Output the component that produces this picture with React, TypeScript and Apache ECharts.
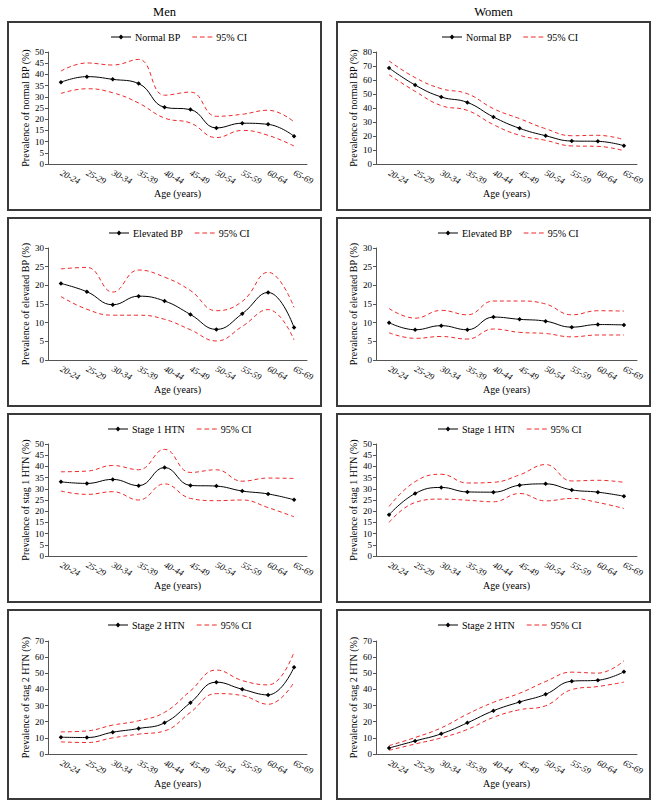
import React, { useEffect, useRef } from "react";
import * as echarts from "echarts";

const ageGroups = ["20-24", "25-29", "30-34", "35-39", "40-44", "45-49", "50-54", "55-59", "60-64", "65-69"];

// Men - Normal BP
const menNormal = [36.5, 39.0, 37.8, 35.9, 25.3, 24.3, 16.1, 18.2, 17.7, 12.4];
const menNormalUp = [41.5, 45.1, 44.2, 46.7, 30.7, 32.1, 21.3, 22.2, 24.0, 18.8];
const menNormalLo = [31.5, 33.6, 31.8, 27.2, 20.5, 18.3, 11.8, 15.0, 12.8, 8.0];
// Women - Normal BP
const womenNormal = [68.6, 56.4, 47.9, 44.0, 33.6, 25.5, 20.2, 16.4, 16.2, 13.1];
const womenNormalUp = [73.6, 61.7, 53.8, 50.2, 39.5, 32.4, 25.2, 20.2, 20.5, 17.4];
const womenNormalLo = [63.8, 51.9, 41.7, 38.3, 28.1, 20.5, 16.9, 12.9, 12.6, 9.5];
// Men - Elevated BP
const menElevated = [20.5, 18.3, 14.8, 17.1, 15.8, 12.2, 8.2, 12.4, 18.1, 8.7];
const menElevatedUp = [24.4, 24.8, 18.2, 24.1, 22.2, 18.6, 13.2, 15.7, 23.5, 14.1];
const menElevatedLo = [17.0, 13.6, 12.0, 12.0, 10.9, 8.1, 5.1, 9.0, 13.5, 5.4];
// Women - Elevated BP
const womenElevated = [10.0, 8.1, 9.2, 8.1, 11.5, 10.9, 10.4, 8.8, 9.5, 9.4];
const womenElevatedUp = [13.8, 11.2, 13.3, 12.1, 15.8, 15.8, 15.0, 12.1, 13.2, 13.1];
const womenElevatedLo = [7.3, 5.8, 6.3, 5.6, 8.3, 7.4, 7.1, 6.2, 6.7, 6.7];
// Men - Stage 1 HTN
const menStage1 = [33.1, 32.4, 34.2, 31.4, 39.5, 31.5, 31.2, 29.0, 27.7, 25.1];
const menStage1Up = [37.6, 37.9, 40.4, 38.5, 47.6, 37.3, 38.5, 33.4, 34.8, 34.6];
const menStage1Lo = [29.0, 27.5, 28.7, 25.0, 32.2, 25.7, 24.7, 25.0, 21.6, 17.5];
// Women - Stage 1 HTN
const womenStage1 = [18.4, 27.9, 30.6, 28.6, 28.5, 31.6, 32.2, 29.5, 28.5, 26.7];
const womenStage1Up = [22.1, 33.2, 36.5, 32.6, 32.9, 36.2, 40.8, 33.5, 33.8, 32.9];
const womenStage1Lo = [15.0, 23.9, 25.4, 24.9, 24.2, 27.9, 24.6, 25.7, 23.9, 21.2];
// Men - Stage 2 HTN
const menStage2 = [10.4, 10.2, 13.5, 15.8, 19.3, 31.8, 44.5, 40.1, 36.6, 53.8];
const menStage2Up = [13.7, 14.3, 17.9, 20.6, 25.8, 39.1, 52.0, 45.5, 42.8, 63.2];
const menStage2Lo = [7.5, 7.1, 10.0, 12.3, 14.3, 25.8, 37.4, 36.2, 30.8, 44.5];
// Women - Stage 2 HTN
const womenStage2 = [3.7, 8.1, 12.5, 19.3, 26.8, 32.2, 37.0, 45.1, 45.7, 50.9];
const womenStage2Up = [5.2, 10.2, 16.2, 24.7, 32.0, 37.6, 44.9, 50.7, 50.1, 57.8];
const womenStage2Lo = [2.3, 6.2, 10.0, 15.2, 22.7, 27.4, 29.9, 39.9, 41.8, 44.5];

const seriesNames = ["Normal BP", "Elevated BP", "Stage 1 HTN", "Stage 2 HTN"];
const yAxisNames = [
  "Prevalence of normal BP (%)",
  "Prevalence of elevated BP (%)",
  "Prevalence of stag 1 HTN (%)",
  "Prevalence of stag 2 HTN (%)",
];
const ciName = "95% CI";
const columnTitles = ["Men", "Women"];
const xAxisName = "Age (years)";

const FONT = "'Liberation Serif', 'DejaVu Serif', serif";
const RED = "#ee2a2a";
const DASH_ICON = "path://M0,0h5v1.1h-5zM8,0h5v1.1h-5zM16,0h5v1.1h-5z";
const MAIN_ICON =
  "path://M0,2.45h20v1.1h-20zM10,0.6l2.4,2.4l-2.4,2.4l-2.4,-2.4z";

const panels = [
  { row: 0, col: 0, main: menNormal, up: menNormalUp, lo: menNormalLo, max: 50, interval: 5 },
  { row: 0, col: 1, main: womenNormal, up: womenNormalUp, lo: womenNormalLo, max: 80, interval: 10 },
  { row: 1, col: 0, main: menElevated, up: menElevatedUp, lo: menElevatedLo, max: 30, interval: 5 },
  { row: 1, col: 1, main: womenElevated, up: womenElevatedUp, lo: womenElevatedLo, max: 30, interval: 5 },
  { row: 2, col: 0, main: menStage1, up: menStage1Up, lo: menStage1Lo, max: 50, interval: 5 },
  { row: 2, col: 1, main: womenStage1, up: womenStage1Up, lo: womenStage1Lo, max: 50, interval: 5 },
  { row: 3, col: 0, main: menStage2, up: menStage2Up, lo: menStage2Lo, max: 70, interval: 10 },
  { row: 3, col: 1, main: womenStage2, up: womenStage2Up, lo: womenStage2Lo, max: 70, interval: 10 },
];

const panelTops = [22, 218, 414, 610];
const panelBottoms = [210, 406, 602, 799];
const gridTops = [52, 248, 444, 641];
const gridBottoms = [164, 360, 556, 754];
const panelLefts = [8, 337];
const panelRights = [321, 650];
const gridLefts = [48, 376];
const gridRights = [307, 637];
const legendLefts = [
  [106, 437],
  [104, 433],
  [103, 433],
  [103, 433],
];

export default function App() {
  const ref = useRef<HTMLDivElement>(null);
  useEffect(() => {
    document.body.style.margin = "0";
    if (!ref.current) return;
    const chart = echarts.init(ref.current, null, { renderer: "svg" });

    const grids: any[] = [];
    const xAxes: any[] = [];
    const yAxes: any[] = [];
    const series: any[] = [];
    const legends: any[] = [];
    const graphics: any[] = [];

    columnTitles.forEach((t, c) => {
      graphics.push({
        type: "text",
        x: (panelLefts[c] + panelRights[c]) / 2,
        y: 12,
        style: {
          text: t,
          font: `12.5px ${FONT}`,
          fill: "#000",
          textAlign: "center",
          textVerticalAlign: "middle",
        },
      });
    });

    panels.forEach((p, i) => {
      const { row, col } = p;
      graphics.push({
        type: "rect",
        shape: {
          x: panelLefts[col],
          y: panelTops[row],
          width: panelRights[col] - panelLefts[col],
          height: panelBottoms[row] - panelTops[row],
        },
        style: { fill: "none", stroke: "#3a3a3a", lineWidth: 2 },
        z: 0,
      });
      grids.push({
        left: gridLefts[col],
        top: gridTops[row],
        width: gridRights[col] - gridLefts[col],
        height: gridBottoms[row] - gridTops[row],
        containLabel: false,
      });
      xAxes.push({
        type: "category",
        gridIndex: i,
        data: ageGroups,
        boundaryGap: true,
        name: xAxisName,
        nameLocation: "middle",
        nameGap: 24,
        nameTextStyle: { fontFamily: FONT, fontSize: 10, color: "#000" },
        axisLine: { lineStyle: { color: "#555", width: 1 } },
        axisTick: { alignWithLabel: true, length: 3, lineStyle: { color: "#555" } },
        axisLabel: {
          rotate: -28,
          fontFamily: FONT,
          fontSize: 9,
          fontStyle: "italic",
          color: "#000",
          margin: 8,
          interval: 0,
        },
        splitLine: { show: false },
      });
      yAxes.push({
        type: "value",
        gridIndex: i,
        min: 0,
        max: p.max,
        interval: p.interval,
        name: yAxisNames[row],
        nameLocation: "middle",
        nameGap: 18,
        nameTextStyle: { fontFamily: FONT, fontSize: 10, color: "#000" },
        axisLine: { show: true, lineStyle: { color: "#555", width: 1 } },
        axisTick: { show: true, length: 3, lineStyle: { color: "#555" } },
        axisLabel: { fontFamily: FONT, fontSize: 9, color: "#000", margin: 4 },
        splitLine: { show: false },
      });
      const name = seriesNames[row];
      series.push({
        type: "line",
        name: ciName,
        xAxisIndex: i,
        yAxisIndex: i,
        data: p.up,
        smooth: 0.45,
        symbol: "none",
        lineStyle: { color: RED, width: 1, type: [4, 3] },
        itemStyle: { color: RED },
        z: 2,
      });
      series.push({
        type: "line",
        name: ciName,
        xAxisIndex: i,
        yAxisIndex: i,
        data: p.lo,
        smooth: 0.45,
        symbol: "none",
        lineStyle: { color: RED, width: 1, type: [4, 3] },
        itemStyle: { color: RED },
        z: 2,
      });
      series.push({
        type: "line",
        name,
        xAxisIndex: i,
        yAxisIndex: i,
        data: p.main,
        smooth: 0.45,
        symbol: "diamond",
        symbolSize: 4.5,
        lineStyle: { color: "#000", width: 1 },
        itemStyle: { color: "#000" },
        z: 3,
      });
      legends.push({
        data: [
          { name, icon: MAIN_ICON },
          { name: ciName, icon: DASH_ICON },
        ],
        left: legendLefts[row][col],
        top: panelTops[row] + 5,
        itemWidth: 20,
        itemHeight: 6,
        itemGap: 12,
        selectedMode: false,
        textStyle: { fontFamily: FONT, fontSize: 10, color: "#000", padding: [0, 0, 0, -1] },
      });
    });

    chart.setOption({
      animation: false,
      backgroundColor: "#fff",
      grid: grids,
      xAxis: xAxes,
      yAxis: yAxes,
      series,
      legend: legends,
      graphic: graphics,
    });
    return () => chart.dispose();
  }, []);
  return <div ref={ref} style={{ width: 671, height: 808 }} />;
}
